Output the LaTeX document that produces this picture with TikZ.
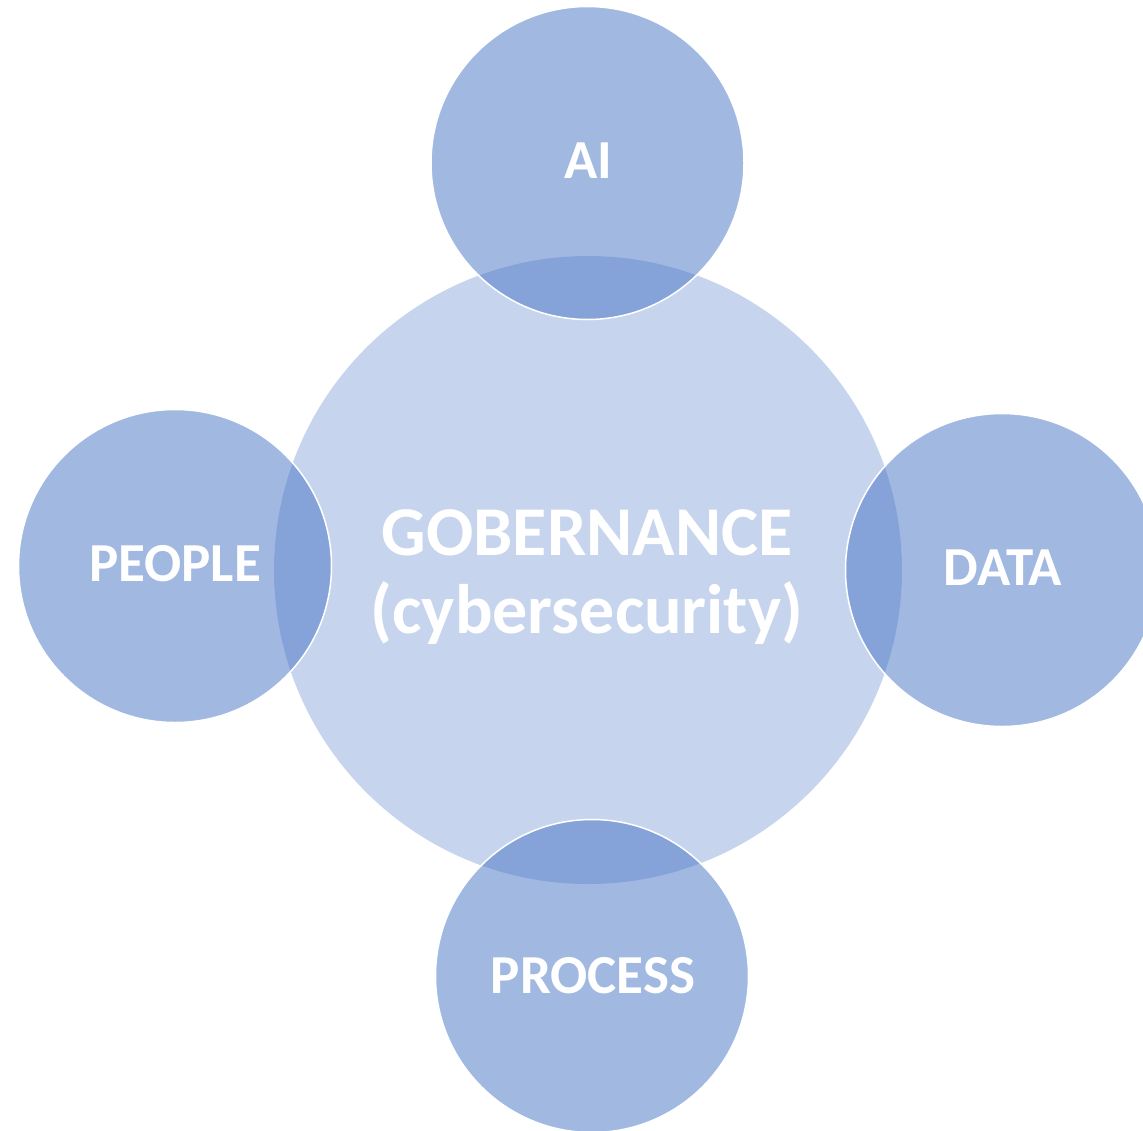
\documentclass[tikz,border=0pt]{standalone}
\usepackage{fontspec}
\setmainfont{Carlito}
\definecolor{officeblue}{HTML}{4472C4}
\begin{document}
\begin{tikzpicture}[x=1pt,y=-1pt,
  hub/.style={circle, inner sep=0pt, minimum size=628pt, fill=officeblue, fill opacity=0.3, text opacity=1, draw=none},
  sat/.style={circle, inner sep=0pt, minimum size=313pt, fill=officeblue, fill opacity=0.5, draw=white, draw opacity=1, line width=1.5pt, text opacity=1},
  lbl/.style={text=white, font=\fontsize{55}{60}\selectfont\bfseries},
  biglbl/.style={text=white, align=center, font=\fontsize{70}{78}\selectfont\bfseries}]
\useasboundingbox (0,0) rectangle (1143,1130);
\node[hub] (gov) at (588,570) {};
\node[sat] (ai) at (587.5,163) {};
\node[sat] (people) at (175,566) {};
\node[sat] (data) at (1002,570) {};
\node[sat] (process) at (592,976) {};
\node[biglbl] (govt) at (587,577) {GOBERNANCE\\(cybersecurity)};
\node[lbl] (ait) at (588,161) {AI};
\node[lbl] (peoplet) at (175,564) {PEOPLE};
\node[lbl] (datat) at (1003,568) {DATA};
\node[lbl] (processt) at (593,976) {PROCESS};
\end{tikzpicture}
\end{document}
